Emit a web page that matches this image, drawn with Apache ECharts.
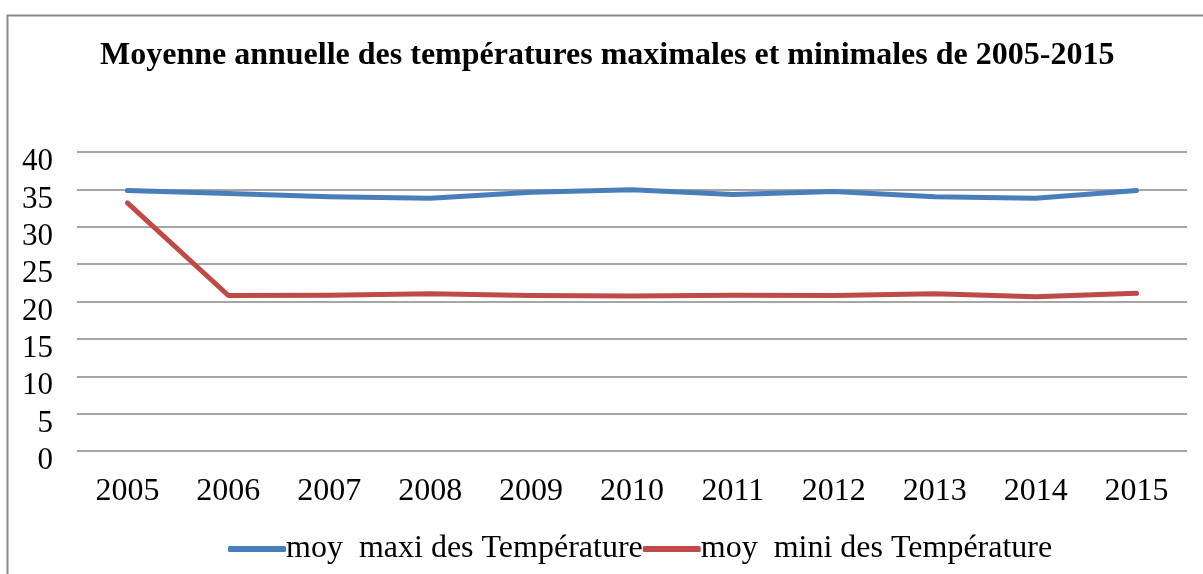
<!DOCTYPE html>
<html>
<head>
<meta charset="utf-8">
<script src="https://cdn.jsdelivr.net/npm/echarts@6/dist/echarts.min.js"></script>
<style>html,body{margin:0;padding:0;background:#fff}#c{width:1203px;height:574px}</style>
</head>
<body>
<div id="c"></div>
<script>
const titleText = 'Moyenne annuelle des températures maximales et minimales de 2005-2015';
const years = ['2005','2006','2007','2008','2009','2010','2011','2012','2013','2014','2015'];
const maxiName = 'moy  maxi des Température';
const miniName = 'moy  mini des Température';
const maxiValues = [34.85, 34.45, 34.0, 33.8, 34.6, 34.95, 34.3, 34.7, 34.0, 33.8, 34.85];
const miniValues = [33.2, 20.8, 20.85, 21.05, 20.8, 20.75, 20.85, 20.8, 21.05, 20.65, 21.1];
const yTicks = { min: 0, max: 40, interval: 5 };

const serif = '"Liberation Serif", "DejaVu Serif", serif';
const chart = echarts.init(document.getElementById('c'));
chart.setOption({
  animation: false,
  backgroundColor: '#ffffff',
  graphic: [{
    type: 'rect', left: 5, top: 13, shape: { width: 1220, height: 600 },
    style: { fill: 'none', stroke: '#898989', lineWidth: 2 }, silent: true, z: -1
  }],
  title: {
    text: titleText, left: 95, top: 35,
    textStyle: { fontFamily: serif, fontWeight: 'bold', fontSize: 32, color: '#000' }
  },
  grid: { left: 77, right: 16, top: 152, height: 299, containLabel: false },
  legend: {
    left: 223, top: 528, itemGap: 0, itemWidth: 58, itemHeight: 6,
    icon: 'roundRect',
    textStyle: { fontFamily: serif, fontSize: 32, color: '#000', padding: [0, 0, 0, -5] },
    data: [maxiName, miniName]
  },
  xAxis: {
    type: 'category', data: years, boundaryGap: true,
    axisLine: { show: false }, axisTick: { show: false },
    axisLabel: { fontFamily: serif, fontSize: 32, color: '#000', margin: 25 }
  },
  yAxis: {
    type: 'value', min: yTicks.min, max: yTicks.max, interval: yTicks.interval,
    axisLine: { show: false }, axisTick: { show: false },
    splitLine: { lineStyle: { color: '#888888', width: 1.5 } },
    axisLabel: { fontFamily: serif, fontSize: 31, color: '#000', margin: 24, verticalAlign: 'top', lineHeight: 20 }
  },
  series: [
    { name: maxiName, type: 'line', data: maxiValues, symbol: 'none',
      lineStyle: { color: '#4A7EBB', width: 5, cap: 'round', join: 'round' }, itemStyle: { color: '#4A7EBB' } },
    { name: miniName, type: 'line', data: miniValues, symbol: 'none',
      lineStyle: { color: '#BE4B48', width: 5, cap: 'round', join: 'round' }, itemStyle: { color: '#BE4B48' } }
  ]
});
</script>
</body>
</html>
